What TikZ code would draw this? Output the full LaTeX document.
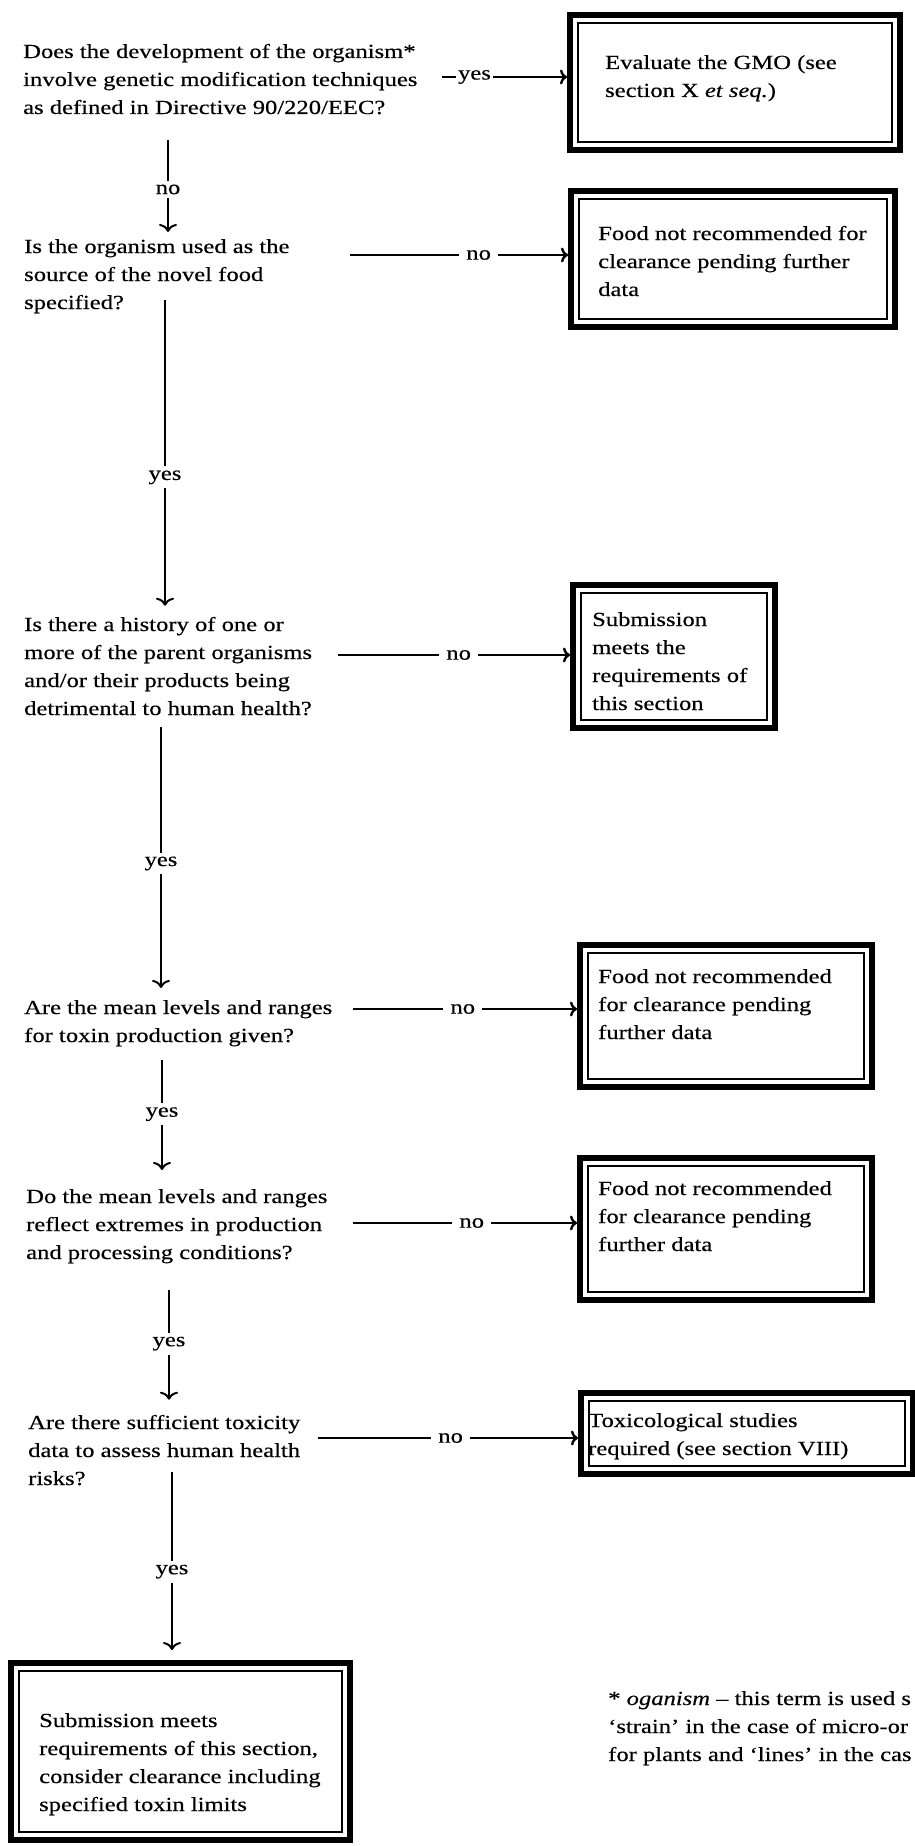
\documentclass[tikz,border=0pt]{standalone}
\usepackage{fontspec}
\setmainfont{Liberation Serif}[FakeStretch=1.23, FakeBold=0.4]
\usetikzlibrary{arrows.meta}
\newcommand\flowfont{\fontsize{20}{28}\selectfont}
\begin{document}
\begin{tikzpicture}[x=1pt, y=-1pt,
  question/.style={anchor=base west, align=left, inner sep=0pt, font=\flowfont},
  outcome/.style={draw, line width=6pt, inner sep=0pt, anchor=north west,
    path picture={\draw[line width=1.5pt]
      ([shift={(8pt,-8pt)}]path picture bounding box.north west) rectangle
      ([shift={(-8pt,8pt)}]path picture bounding box.south east);}},
  outtext/.style={anchor=base west, align=left, inner sep=0pt, font=\flowfont},
  hflow/.style={line width=2.4pt, -{Computer Modern Rightarrow[length=7pt,width=15pt]}},
  vflow/.style={line width=1.4pt, -{Computer Modern Rightarrow[length=8pt,width=18pt,line width=2pt]}},
  answer/.style={fill=white, inner xsep=7pt, inner ysep=4pt, font=\flowfont},
]
\useasboundingbox (0,0) rectangle (914,1846);

% questions down the left side (each placed by the baseline of its last line)
\node[question] (q1) at (23,114) {Does the development of the organism*\\involve genetic modification techniques\\as defined in Directive 90/220/EEC?};
\node[question] (q2) at (24,309) {Is the organism used as the\\source of the novel food\\specified?};
\node[question] (q3) at (24,715) {Is there a history of one or\\more of the parent organisms\\and/or their products being\\detrimental to human health?};
\node[question] (q4) at (24,1042) {Are the mean levels and ranges\\for toxin production given?};
\node[question] (q5) at (26,1259) {Do the mean levels and ranges\\reflect extremes in production\\and processing conditions?};
\node[question] (q6) at (28,1485) {Are there sufficient toxicity\\data to assess human health\\risks?};

% framed outcomes
\node[outcome, minimum width=330pt, minimum height=135pt] (b1) at (567,12) {};
\node[outtext] (b1t) at (605,97) {Evaluate the GMO (see\\section X \textit{et seq.})};

\node[outcome, minimum width=324pt, minimum height=136pt] (b2) at (568,188) {};
\node[outtext] (b2t) at (598,296) {Food not recommended for\\clearance pending further\\data};

\node[outcome, minimum width=202pt, minimum height=143pt] (b3) at (570,582) {};
\node[outtext] (b3t) at (592,710) {Submission\\meets the\\requirements of\\this section};

\node[outcome, minimum width=292pt, minimum height=142pt] (b4) at (577,942) {};
\node[outtext] (b4t) at (598,1039) {Food not recommended\\for clearance pending\\further data};

\node[outcome, minimum width=292pt, minimum height=142pt] (b5) at (577,1155) {};
\node[outtext] (b5t) at (598,1251) {Food not recommended\\for clearance pending\\further data};

\node[outcome, minimum width=332pt, minimum height=81pt] (b6) at (578,1390) {};
\node[outtext] (b6t) at (588,1455) {Toxicological studies\\required (see section VIII)};

\node[outcome, minimum width=339pt, minimum height=177pt] (fin) at (8,1660) {};
\node[outtext] (fint) at (39,1811) {Submission meets\\requirements of this section,\\consider clearance including\\specified toxin limits};

% footnote
\node[outtext] (note) at (608,1761) {* \textit{oganism} – this term is used s\\‘strain’ in the case of micro-or\\for plants and ‘lines’ in the cas};

% horizontal branches
\coordinate (h1) at (442,77);
\coordinate (h2) at (350,255);
\coordinate (h3) at (338,655);
\coordinate (h4) at (353,1009);
\coordinate (h5) at (353,1223);
\coordinate (h6) at (318,1438);
\draw[hflow] (h1) -- (h1 -| b1.west) node[answer, inner xsep=2pt, pos=0.26] {yes};
\draw[hflow] (h2) -- (h2 -| b2.west) node[answer, pos=0.59] {no};
\draw[hflow] (h3) -- (h3 -| b3.west) node[answer, pos=0.52] {no};
\draw[hflow] (h4) -- (h4 -| b4.west) node[answer, pos=0.49] {no};
\draw[hflow] (h5) -- (h5 -| b5.west) node[answer, pos=0.53] {no};
\draw[hflow] (h6) -- (h6 -| b6.west) node[answer, pos=0.51] {no};

% vertical flow
\coordinate (v1) at (168,140);
\coordinate (v2) at (165,300);
\coordinate (v3) at (161,727);
\coordinate (v4) at (162,1060);
\coordinate (v5) at (169,1290);
\coordinate (v6) at (172,1472);
\draw[vflow, shorten >=7pt] (v1) -- (v1 |- q2.north) node[answer, pos=0.5] {no};
\draw[vflow, shorten >=11pt] (v2) -- (v2 |- q3.north) node[answer, pos=0.56] {yes};
\draw[vflow, shorten >=12pt] (v3) -- (v3 |- q4.north) node[answer, pos=0.5] {yes};
\draw[vflow, shorten >=19pt] (v4) -- (v4 |- q5.north) node[answer, pos=0.42] {yes};
\draw[vflow, shorten >=15pt] (v5) -- (v5 |- q6.north) node[answer, pos=0.43] {yes};
\draw[vflow, shorten >=10pt] (v6) -- (v6 |- fin.north) node[answer, pos=0.53] {yes};
\end{tikzpicture}
\end{document}
